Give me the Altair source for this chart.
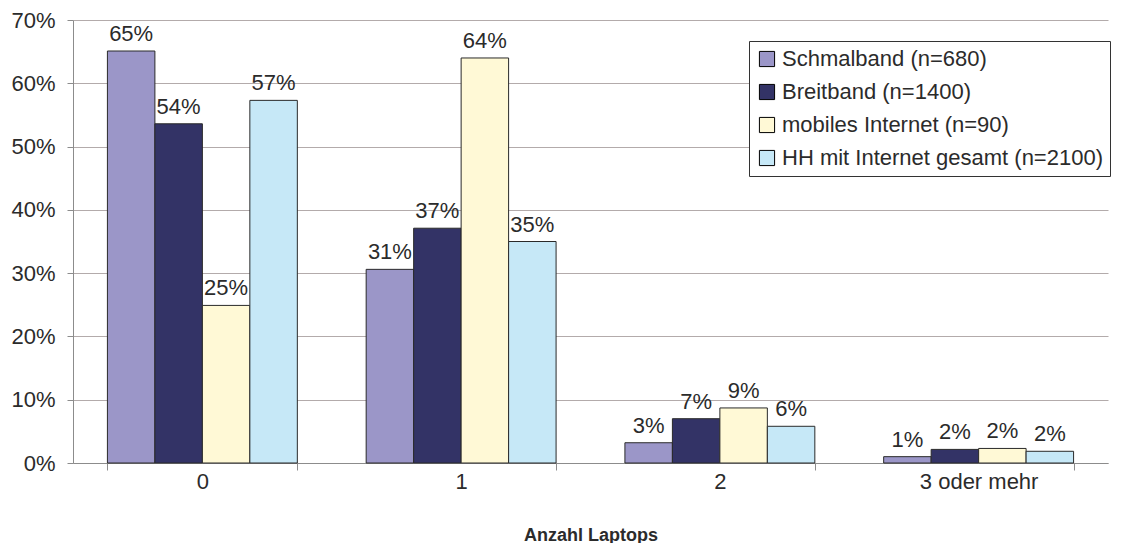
import altair as alt
import pandas as pd

categories = ["0", "1", "2", "3 oder mehr"]
series = ["Schmalband (n=680)", "Breitband (n=1400)", "mobiles Internet (n=90)", "HH mit Internet gesamt (n=2100)"]
schmalband = [0.651, 0.306, 0.032, 0.010]
breitband = [0.536, 0.371, 0.070, 0.0215]
mobil = [0.249, 0.640, 0.087, 0.023]
gesamt = [0.573, 0.350, 0.058, 0.0185]
colors = ["#9b96c8", "#333366", "#fff9d6", "#c6e8f7"]

rows = []
for s, vals in zip(series, [schmalband, breitband, mobil, gesamt]):
    for c, v in zip(categories, vals):
        rows.append({"cat": c, "series": s, "value": v})
df = pd.DataFrame(rows)

FONT = "Liberation Sans"
TXT = "#2b2b2b"

base = alt.Chart(df).encode(
    x=alt.X("cat:N", sort=categories, title="Anzahl Laptops",
            scale=alt.Scale(paddingInner=0.266, paddingOuter=0.133),
            axis=alt.Axis(labelAngle=0, tickBand="extent", tickSize=7, labelPadding=1,
                          titlePadding=34, titleFontSize=18, titleFontWeight="bold",
                          labelFontSize=22, grid=False, domainColor="#8c8c8c", tickColor="#8c8c8c")),
    xOffset=alt.XOffset("series:N", sort=series, scale=alt.Scale(paddingInner=0, paddingOuter=0)),
)

bars = base.mark_bar(stroke="#2a2a2a", strokeWidth=1).encode(
    y=alt.Y("value:Q", title=None,
            scale=alt.Scale(domain=[0, 0.7], nice=False),
            axis=alt.Axis(values=[0, 0.1, 0.2, 0.3, 0.4, 0.5, 0.6, 0.7], format=".0%",
                          tickSize=6, labelPadding=12, labelFontSize=22,
                          gridColor="#b3abab", domainColor="#8c8c8c", tickColor="#8c8c8c")),
    color=alt.Color("series:N", sort=series,
                    scale=alt.Scale(domain=series, range=colors),
                    legend=alt.Legend(title=None, orient="none", legendX=676, legendY=21,
                                      symbolType="square", symbolSize=230,
                                      symbolStrokeColor="#000", symbolStrokeWidth=1,
                                      labelFontSize=22, labelFont=FONT, labelColor=TXT,
                                      labelLimit=0,
                                      rowPadding=11, labelOffset=4, padding=7,
                                      strokeColor="#333", fillColor="white")),
)

labels = base.mark_text(baseline="alphabetic", dy=-10, fontSize=22, font=FONT, color=TXT).encode(
    y=alt.Y("value:Q"),
    text=alt.Text("value:Q", format=".0%"),
)

chart = alt.layer(bars, labels).properties(
    width=1035, height=443,
    autosize=alt.AutoSizeParams(type="none"),
    padding={"left": 65, "top": 12, "right": 12, "bottom": 80},
).configure_view(stroke=None).configure_axis(
    labelFont=FONT, titleFont=FONT, labelColor=TXT, titleColor=TXT
)

chart.save("out.html", embed_options={"renderer": "svg", "actions": False})
